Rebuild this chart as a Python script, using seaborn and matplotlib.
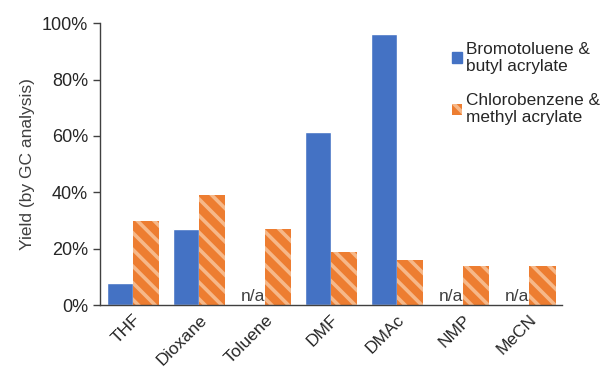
import numpy as np
import pandas as pd
import matplotlib.pyplot as plt
import matplotlib.ticker as mticker
from matplotlib.patches import Patch
import seaborn as sns

solvents = ['THF', 'Dioxane', 'Toluene', 'DMF', 'DMAc', 'NMP', 'MeCN']
bromo_butyl = [0.08, 0.27, np.nan, 0.615, 0.96, np.nan, np.nan]
chloro_methyl = [0.30, 0.39, 0.27, 0.19, 0.16, 0.14, 0.14]
series = ['Bromotoluene &\nbutyl acrylate', 'Chlorobenzene &\nmethyl acrylate']

blue = '#4472C4'
orange = '#ED7D31'
light_orange = '#F6B889'

df = pd.DataFrame({
    'solvent': solvents * 2,
    'yield': bromo_butyl + chloro_methyl,
    'series': [series[0]] * len(solvents) + [series[1]] * len(solvents),
})

sns.set_style('white')
plt.rcParams['font.family'] = ['Liberation Sans', 'DejaVu Sans']
plt.rcParams['hatch.linewidth'] = 2.6

fig = plt.figure(figsize=(6.13, 3.74), dpi=100)
ax = fig.add_axes([0.163, 0.184, 0.754, 0.754])

sns.barplot(data=df, x='solvent', y='yield', hue='series', order=solvents,
            hue_order=series, palette=[blue, orange], width=0.8,
            saturation=1, errorbar=None, legend=False, ax=ax)

# hatch the orange bars
for bar in ax.containers[1]:
    bar.set_hatch('\\\\')
    bar.set_edgecolor(light_orange)
    bar.set_linewidth(0)

# n/a labels where the blue series is missing
for i, v in enumerate(bromo_butyl):
    if np.isnan(v):
        ax.text(i - 0.18, 0.003, 'n/a', ha='center', va='bottom',
                fontsize=12.5, color='#404040')

ax.set_ylim(0, 1)
ax.set_xlim(-0.5, len(solvents) - 0.5)
ax.yaxis.set_major_formatter(mticker.PercentFormatter(1.0, decimals=0))
ax.set_yticks(np.arange(0, 1.01, 0.2))
ax.set_xticks(np.arange(-0.5, len(solvents), 1.0), minor=False)
ax.set_xticklabels([])
ax.set_xticks(range(len(solvents)), minor=True)
ax.set_xticklabels(solvents, minor=True, rotation=45, ha='right',
                   rotation_mode='anchor', fontsize=12.5, color='#262626')
ax.tick_params(axis='x', which='minor', length=0, pad=5)
ax.tick_params(axis='x', which='major', length=5, width=1, color='#404040')
ax.tick_params(axis='y', length=5, width=1, color='#404040',
               labelsize=13, labelcolor='#262626', left=True)
ax.set_xlabel('')
ax.set_ylabel('Yield (by GC analysis)', fontsize=12.5, color='#404040', labelpad=5)

for s in ['top', 'right']:
    ax.spines[s].set_visible(False)
for s in ['left', 'bottom']:
    ax.spines[s].set_color('#404040')
    ax.spines[s].set_linewidth(1)

handles = [Patch(facecolor=blue, edgecolor=blue),
           Patch(facecolor=orange, edgecolor=light_orange, hatch='\\\\', linewidth=0)]
fig.legend(handles, series, loc='upper left', bbox_to_anchor=(0.712, 0.93),
           frameon=False, fontsize=12.4, handlelength=0.6, handleheight=0.6,
           handletextpad=0.2, labelspacing=1.1, labelcolor='#262626')

fig.savefig('out.png', dpi=100)
